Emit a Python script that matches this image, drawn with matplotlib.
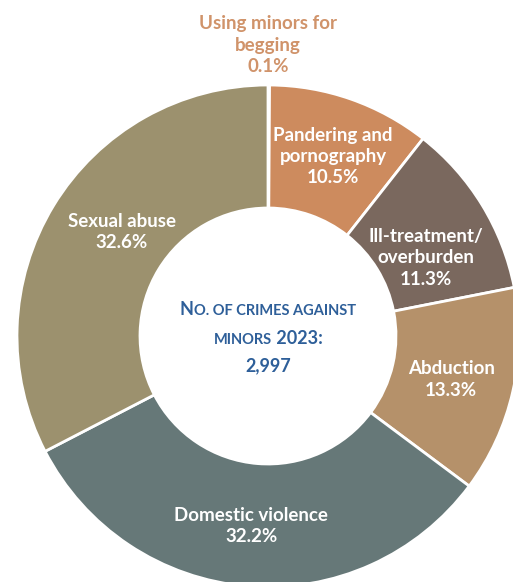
import numpy as np
import matplotlib
matplotlib.use('Agg')
import matplotlib.pyplot as plt
from matplotlib.offsetbox import TextArea, HPacker, VPacker, AnnotationBbox

# data
labels = ['Using minors for\nbegging', 'Pandering and\npornography', 'Ill-treatment/\noverburden',
          'Abduction', 'Domestic violence', 'Sexual abuse']
shares = [0.1, 10.5, 11.3, 13.3, 32.2, 32.6]
colors = ['#cf8c5e', '#cd8b5e', '#7a685e', '#b5916a', '#667878', '#9c916e']
# label placement: fraction of radius, angle nudge (deg)
label_dist = [None, 0.76, 0.70, 0.75, 0.76, 0.715]
label_nudge = [0, -0.7, -5.1, -0.6, -0.4, -4.2]

plt.rcParams['font.family'] = ['Lato', 'DejaVu Sans']

W, H = 513, 582
fig = plt.figure(figsize=(W / 100, H / 100), dpi=100)
ax = fig.add_axes([0, 0, 1, 1])

cx, cy, R = 268, H - 336, 251
wedges, _ = ax.pie(shares, colors=colors, startangle=90, counterclock=False,
                   center=(cx, cy), radius=R, frame=True,
                   wedgeprops=dict(width=R - 128, edgecolor='white', linewidth=2))
ax.set_xlim(0, W)
ax.set_ylim(0, H)
ax.set_aspect('equal')
ax.axis('off')

for w, lab, s, d, nud in zip(wedges, labels, shares, label_dist, label_nudge):
    txt = f'{lab}\n{s:.1f}%'
    if d is None:
        ax.text(cx, cy + R + 40, txt, ha='center', va='center', fontsize=13.5,
                fontweight='bold', color='#d0936a', linespacing=1.3)
        continue
    ang = np.deg2rad((w.theta1 + w.theta2) / 2 + nud)
    x = cx + d * R * np.cos(ang)
    y = cy + d * R * np.sin(ang)
    ax.text(x, y, txt, ha='center', va='center', fontsize=13.5, fontweight='bold',
            color='white', linespacing=1.3)

# centre title in small caps
blue = '#2e5f99'
big = dict(color=blue, fontsize=13, fontweight='bold')
small = dict(color=blue, fontsize=10.5, fontweight='bold')
line1 = HPacker(children=[TextArea('N', textprops=big),
                          TextArea('O. OF CRIMES AGAINST', textprops=small)],
                align='baseline', pad=0, sep=0)
line2 = HPacker(children=[TextArea('MINORS', textprops=small),
                          TextArea(' 2023:', textprops=big)],
                align='baseline', pad=0, sep=0)
line3 = TextArea('2,997', textprops=big)
block = VPacker(children=[line1, line2, line3], align='center', pad=0, sep=8)
ab = AnnotationBbox(block, (cx, H - 338), frameon=False, box_alignment=(0.5, 0.5))
ax.add_artist(ab)

fig.savefig('out.png', dpi=100)
